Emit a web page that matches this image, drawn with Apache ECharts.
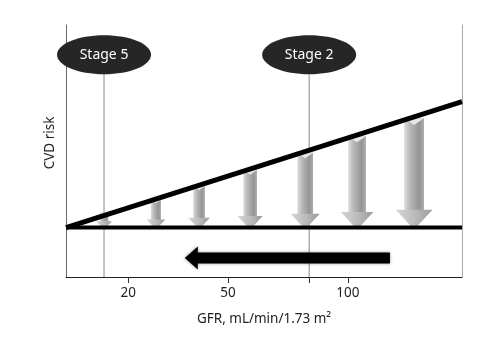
<!DOCTYPE html>
<html>
<head>
<meta charset="utf-8">
<script src="https://cdn.jsdelivr.net/npm/echarts@6/dist/echarts.min.js"></script>
<style>html,body{margin:0;padding:0;background:#fff}#c{width:497px;height:357px}</style>
</head>
<body>
<div id="c"></div>
<script>
// Schematic x position (0..100 across the plot), risk on y (baseline = 0)
const tickPositions = [15.7, 40.9, 71.2];
const tickLabels = ['20', '50', '100'];
const stageNames = ['Stage 5', 'Stage 2'];
const stageX = [9.6, 61.4];
const stageLabelLevel = 7.0;
const riskLineX = [0, 100];
const riskLineY = [0, 5.1];
const baselineX = [0, 100];
const baselineY = [0, 0];
const arrowX = [9.6, 22.7, 33.6, 46.5, 60.4, 73.5, 87.9];
const arrowTop = [0.6, 1.13, 1.68, 2.33, 3.03, 3.7, 4.43];
const trendArrowX = [81.8, 30];
const trendArrowLevel = -1.23;

const FONT = '"Noto Sans", "Open Sans", sans-serif';
const chart = echarts.init(document.getElementById('c'), null, {renderer: 'canvas'});

const shaftGrad = () => new echarts.graphic.LinearGradient(0, 0, 1, 0, [
  {offset: 0, color: '#dedede'}, {offset: 0.3, color: '#b8b8b8'},
  {offset: 0.75, color: '#959595'}, {offset: 1, color: '#acacac'}]);
const headGrad = () => new echarts.graphic.LinearGradient(0, 0, 1, 0, [
  {offset: 0, color: '#d6d6d6'}, {offset: 0.5, color: '#bcbcbc'}, {offset: 1, color: '#9a9a9a'}]);

chart.setOption({
  animation: false,
  grid: {left: 66, right: 35, top: 25, bottom: 80},
  xAxis: {
    type: 'value', min: 0, max: 100,
    name: 'GFR, mL/min/1.73 m²', nameLocation: 'middle', nameGap: 35,
    nameTextStyle: {fontFamily: FONT, fontSize: 13.5, color: '#222'},
    axisLine: {show: true, onZero: false, lineStyle: {color: '#222', width: 1}},
    axisTick: {show: true, customValues: tickPositions.concat([stageX[1]]), length: 6, lineStyle: {color: '#333'}},
    axisLabel: {customValues: tickPositions, fontFamily: FONT, fontSize: 13.5, color: '#222', margin: 9,
      formatter: v => { const i = tickPositions.indexOf(v); return i >= 0 ? tickLabels[i] : ''; }},
    splitLine: {show: false}
  },
  yAxis: [{
    type: 'value', min: -2, max: 8.2,
    name: 'CVD risk', nameLocation: 'middle', nameGap: 9,
    nameTextStyle: {fontFamily: FONT, fontSize: 13.5, color: '#222', padding: [0, 0, 0, 16]},
    axisLine: {show: true, lineStyle: {color: '#6a6a6a'}},
    axisTick: {show: false}, axisLabel: {show: false}, splitLine: {show: false}
  }, {
    type: 'value', min: -2, max: 8.2, position: 'right',
    axisLine: {show: true, lineStyle: {color: '#a8a8a8'}},
    axisTick: {show: false}, axisLabel: {show: false}, splitLine: {show: false}
  }],
  series: [
    {
      type: 'custom', z: 2,
      data: stageX.map(x => [x, stageLabelLevel]),
      renderItem: (params, api) => {
        const top = api.coord([api.value(0), api.value(1)]);
        const bot = api.coord([api.value(0), -2]);
        return {type: 'line', shape: {x1: top[0], y1: top[1], x2: bot[0], y2: bot[1]},
          style: {stroke: '#8a8a8a', lineWidth: 1}};
      }
    },
    {
      type: 'custom', z: 3,
      data: arrowX.map((x, i) => [x, arrowTop[i]]),
      renderItem: (params, api) => {
        const x = api.value(0);
        const p0 = api.coord([x, api.value(1)]);
        const p1 = api.coord([x, 0]);
        const tipY = p1[1] + 2;
        const len = tipY - p0[1];
        const sw = 6.5 + 0.12 * len;
        const hw = sw * 1.85;
        const hh = Math.min(sw, len * 0.5);
        const cx = p0[0];
        return {type: 'group', children: [
          {type: 'rect', shape: {x: cx - sw / 2, y: p0[1], width: sw, height: tipY - hh - p0[1] + 0.5},
            style: {fill: shaftGrad()}},
          {type: 'polygon', shape: {points: [[cx - sw / 2, p0[1]], [cx + sw / 2, p0[1]], [cx, p0[1] + sw * 0.35]]},
            style: {fill: '#e8e8e8'}},
          {type: 'polygon', shape: {points: [[cx - hw / 2, tipY - hh], [cx + hw / 2, tipY - hh], [cx, tipY]]},
            style: {fill: headGrad()}}
        ]};
      }
    },
    {
      type: 'line', z: 5, symbol: 'none', silent: true,
      data: baselineX.map((x, i) => [x, baselineY[i]]),
      lineStyle: {color: '#000', width: 4}
    },
    {
      type: 'line', z: 5, symbol: 'none', silent: true,
      data: riskLineX.map((x, i) => [x, riskLineY[i]]),
      lineStyle: {color: '#000', width: 5}
    },
    {
      type: 'custom', z: 6,
      data: [[trendArrowX[0], trendArrowX[1], trendArrowLevel]],
      renderItem: (params, api) => {
        const a = api.coord([api.value(0), api.value(2)]);
        const b = api.coord([api.value(1), api.value(2)]);
        const y = a[1];
        const th = 5.5, hh = 11.5, hl = 13;
        return {type: 'polygon', shape: {points: [
          [a[0], y - th], [b[0] + hl, y - th], [b[0] + hl, y - hh], [b[0], y],
          [b[0] + hl, y + hh], [b[0] + hl, y + th], [a[0], y + th]]},
          style: {fill: '#000', shadowBlur: 3, shadowColor: 'rgba(0,0,0,0.45)'}};
      }
    },
    {
      type: 'custom', z: 7,
      data: stageX.map(x => [x, stageLabelLevel]),
      renderItem: (params, api) => {
        const c = api.coord([api.value(0), api.value(1)]);
        return {type: 'group', children: [
          {type: 'ellipse', shape: {cx: c[0], cy: c[1], rx: 47, ry: 19.5}, style: {fill: '#262626'}},
          {type: 'text', style: {text: stageNames[params.dataIndex], x: c[0], y: c[1] + 0.5,
            fill: '#fff', font: '14px ' + FONT, align: 'center', verticalAlign: 'middle'}}
        ]};
      }
    }
  ]
});
</script>
</body>
</html>
